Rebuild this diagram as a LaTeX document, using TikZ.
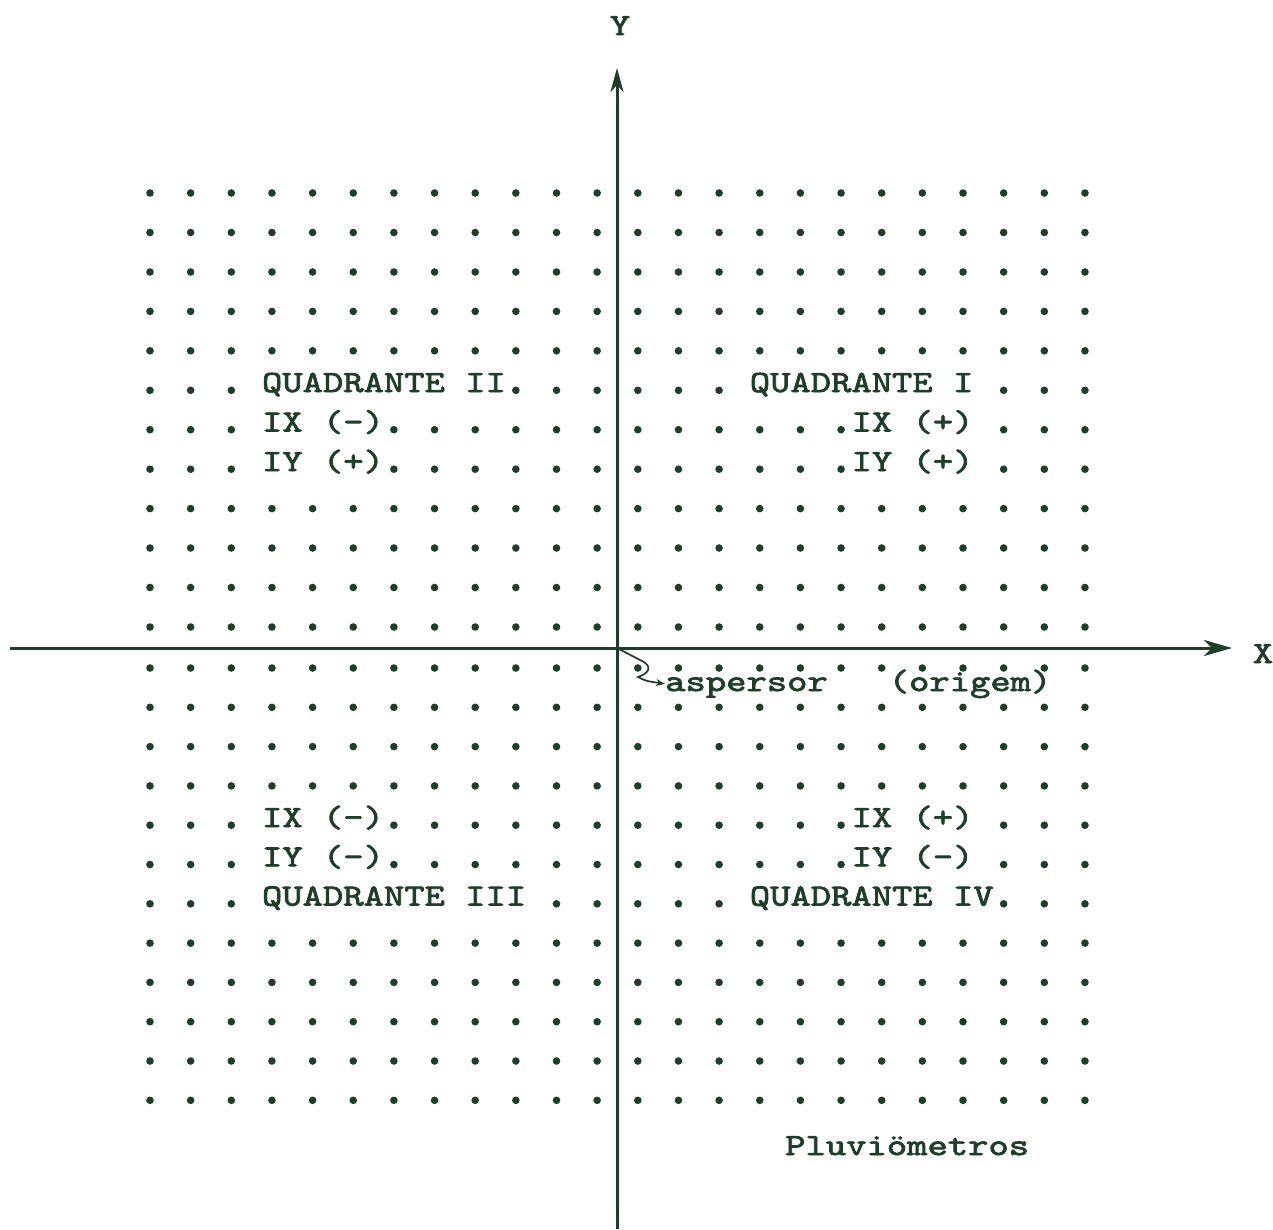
\documentclass[tikz,border=0pt]{standalone}
\usepackage{fontspec}
\newfontfamily\twfont{lmmono10-regular}[Extension=.otf, FakeStretch=1.257, FakeBold=2.4]
\usetikzlibrary{arrows.meta}
\definecolor{ink}{RGB}{30,62,42}
\newcommand\dotrow[2]{\foreach \k in {#2} {\fill[ink] ({150+40.65*\k},#1) circle (3.8);}}
\begin{document}
\begin{tikzpicture}[x=1pt,y=-1pt,
  lbl/.style={inner sep=0pt, text=ink, font=\fontsize{30.8}{36}\twfont},
  axis/.style={draw=ink, line width=3pt}]
\useasboundingbox (0,0) rectangle (1273,1229);
\fill[white] (0,0) rectangle (1273,1229);
% grid of rain gauges (upper half)
\dotrow{193}{0,...,23}
\dotrow{232.5}{0,...,23}
\dotrow{272}{0,...,23}
\dotrow{311.4}{0,...,23}
\dotrow{350.8}{0,...,23}
\dotrow{390.3}{0,1,2,9,10,11,12,13,14,21,22,23}
\dotrow{429.7}{0,1,2,6,7,8,9,10,11,12,13,14,15,16,17,21,22,23}
\dotrow{469.2}{0,1,2,6,7,8,9,10,11,12,13,14,15,16,17,21,22,23}
\dotrow{508.6}{0,...,23}
\dotrow{548}{0,...,23}
\dotrow{587.5}{0,...,23}
\dotrow{627}{0,...,23}
% lower half
\dotrow{668}{0,...,23}
\dotrow{707.3}{0,...,23}
\dotrow{746.6}{0,...,23}
\dotrow{785.9}{0,...,23}
\dotrow{825.2}{0,1,2,6,7,8,9,10,11,12,13,14,15,16,17,21,22,23}
\dotrow{864.5}{0,1,2,6,7,8,9,10,11,12,13,14,15,16,17,21,22,23}
\dotrow{903.8}{0,1,2,10,11,12,13,14,21,22,23}
\dotrow{943.1}{0,...,23}
\dotrow{982.4}{0,...,23}
\dotrow{1021.7}{0,...,23}
\dotrow{1061}{0,...,23}
\dotrow{1100.3}{0,...,23}
% axes
\coordinate (O) at (617,648);
\coordinate (ybot) at (617,1229);
\coordinate (ytop) at (617,68);
\coordinate (xleft) at (10,648);
\coordinate (xright) at (1232,648);
\draw[axis, -{Stealth[length=24pt,width=13pt,inset=7pt]}] (ybot) -- (ytop);
\draw[axis, -{Stealth[length=28pt,width=16pt,inset=8pt]}] (xleft) -- (xright);
\node[lbl, anchor=base] (ylab) at (620,35) {Y};
\node[lbl, anchor=base] (xlab) at (1263,663) {X};
% quadrant labels
\node[lbl, anchor=base west] (q2) at (261.8,392) {QUADRANTE II};
\node[lbl, anchor=base west] (q2x) at (261.8,431.5) {IX (-)};
\node[lbl, anchor=base west] (q2y) at (261.8,471) {IY (+)};
\node[lbl, anchor=base west] (q1) at (749.6,392) {QUADRANTE I};
\node[lbl, anchor=base west] (q1x) at (851.4,431.5) {IX (+)};
\node[lbl, anchor=base west] (q1y) at (851.4,471) {IY (+)};
\node[lbl, anchor=base west] (q3x) at (261.8,827) {IX (-)};
\node[lbl, anchor=base west] (q3y) at (261.8,866.3) {IY (-)};
\node[lbl, anchor=base west] (q3) at (261.8,905.6) {QUADRANTE III};
\node[lbl, anchor=base west] (q4x) at (851.4,827) {IX (+)};
\node[lbl, anchor=base west] (q4y) at (851.4,866.3) {IY (-)};
\node[lbl, anchor=base west] (q4) at (749.6,905.6) {QUADRANTE IV};
% sprinkler
\node[lbl, anchor=base west] (asp) at (665,691) {aspersor\ \ \ (origem)};
\draw[ink, line width=1.7pt, -{Stealth[length=9pt,width=7pt]}]
  (O) -- (642,661) .. controls (652,666) and (650,673) .. (638,677)
  .. controls (646,681) .. (asp.west);
\node[lbl, anchor=base west] (pluv) at (785,1155) {Pluviömetros};
\end{tikzpicture}
\end{document}
